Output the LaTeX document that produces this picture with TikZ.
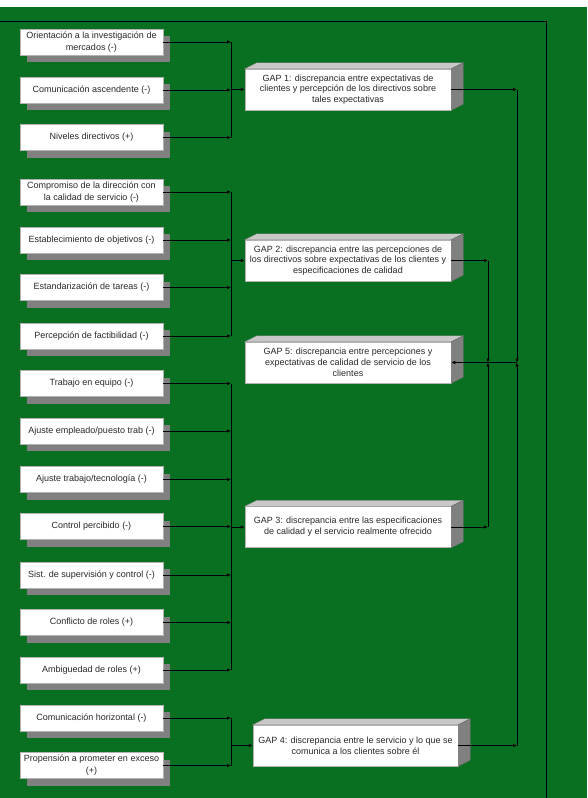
\documentclass[tikz,border=0pt]{standalone}
\usepackage{fontspec}
\setmainfont{Liberation Sans}
\usetikzlibrary{arrows.meta,shadows}
\definecolor{bggreen}{RGB}{8,112,32}
\definecolor{shadowgray}{RGB}{128,128,128}
\definecolor{topgray}{RGB}{200,200,200}
\definecolor{sidegray}{RGB}{128,128,128}
\definecolor{txt}{RGB}{40,40,40}
\tikzset{
  factor/.style={draw=gray!60, line width=0.5pt, fill=white, minimum width=143pt, minimum height=26pt,
    inner sep=1pt, align=center, text=txt, font=\fontsize{9}{11.8}\selectfont,
    general shadow={fill=shadowgray, shadow xshift=7pt, shadow yshift=-7pt}},
  gapbox/.style={draw=gray!60, line width=0.5pt, fill=white, minimum width=206pt, minimum height=41pt,
    inner sep=1pt, align=center, text=txt, font=\fontsize{9}{10.8}\selectfont},
  conn/.style={black, line width=0.7pt},
  arr/.style={conn, -{Latex[length=4pt,width=3.4pt]}},
}
\newcommand{\gapfaces}[1]{%
  \fill[topgray, draw=gray] (#1.north west) -- ++(12pt,6pt) -- ([shift={(12pt,6pt)}]#1.north east) -- (#1.north east) -- cycle;
  \fill[sidegray, draw=gray!80!black] (#1.north east) -- ++(12pt,6pt) -- ([shift={(12pt,6pt)}]#1.south east) -- (#1.south east) -- cycle;
}
\begin{document}
\begin{tikzpicture}[x=1pt,y=-1pt]
\useasboundingbox (0,0) rectangle (587,798);
\fill[bggreen] (0,0) rectangle (587,798);
\fill[white] (0,0) rectangle (587,7);
\draw[black, line width=0.6pt] (0,21) -- (546,21) -- (546,798);

% left factors
\node[factor] (f1) at (91.5,42) {Orientación a la investigación de\\mercados (-)};
\node[factor] (f2) at (91.5,90) {Comunicación ascendente (-)};
\node[factor] (f3) at (91.5,137.5) {Niveles directivos (+)};
\node[factor] (f4) at (91.5,192) {Compromiso de la dirección con\\la calidad de servicio (-)};
\node[factor] (f5) at (91.5,240) {Establecimiento de objetivos (-)};
\node[factor] (f6) at (91.5,287.5) {Estandarización de tareas (-)};
\node[factor] (f7) at (91.5,336) {Percepción de factibilidad (-)};
\node[factor] (f8) at (91.5,383.5) {Trabajo en equipo (-)};
\node[factor] (f9) at (91.5,431) {Ajuste empleado/puesto trab (-)};
\node[factor] (f10) at (91.5,479.5) {Ajuste trabajo/tecnología (-)};
\node[factor] (f11) at (91.5,526.5) {Control percibido (-)};
\node[factor] (f12) at (91.5,575) {Sist. de supervisión y control (-)};
\node[factor] (f13) at (91.5,622.5) {Conflicto de roles (+)};
\node[factor] (f14) at (91.5,670) {Ambiguedad de roles (+)};
\node[factor] (f15) at (91.5,718) {Comunicación horizontal (-)};
\node[factor] (f16) at (91.5,765.5) {Propensión a prometer en exceso\\(+)};

% gap boxes
\node[gapbox] (g1) at (348,89.5) {GAP 1: discrepancia entre expectativas de\\clientes y percepción de los directivos sobre\\tales expectativas};
\node[gapbox] (g2) at (348,260.5) {GAP 2: discrepancia entre las percepciones de\\los directivos sobre expectativas de los clientes y\\especificaciones de calidad};
\node[gapbox] (g5) at (348,362.5) {GAP 5: discrepancia entre percepciones y\\expectativas de calidad de servicio de los\\clientes};
\node[gapbox] (g3) at (348,527) {GAP 3: discrepancia entre las especificaciones\\de calidad y el servicio realmente ofrecido};
\node[gapbox, minimum width=205pt] (g4) at (355.5,745.5) {GAP 4: discrepancia entre le servicio y lo que se\\comunica a los clientes sobre él};
\gapfaces{g1}\gapfaces{g2}\gapfaces{g5}\gapfaces{g3}\gapfaces{g4}

% bus coordinates
\coordinate (busA) at (231,0);
\coordinate (r1) at (517,89.5);
\coordinate (r4) at (517,745.5);
\coordinate (r2) at (488,260.5);
\coordinate (r3) at (488,527);
\coordinate (j1) at (517,362.5);
\coordinate (j2) at (488,362.5);

% group 1
\foreach \f in {f1,f2,f3} \draw[arr] (\f.east) -- (\f.east -| busA);
\draw[conn] (f1.east -| busA) -- (f3.east -| busA);
\draw[arr] (g1.west -| busA) -- (g1.west);
% group 2
\foreach \f in {f4,f5,f6,f7} \draw[arr] (\f.east) -- (\f.east -| busA);
\draw[conn] (f4.east -| busA) -- (f7.east -| busA);
\draw[arr] (g2.west -| busA) -- (g2.west);
% group 3
\foreach \f in {f8,f9,f10,f11,f12,f13,f14} \draw[arr] (\f.east) -- (\f.east -| busA);
\draw[conn] (f8.east -| busA) -- (f14.east -| busA);
\draw[arr] (g3.west -| busA) -- (g3.west);
% group 4
\foreach \f in {f15,f16} \draw[arr] (\f.east) -- (\f.east -| busA);
\draw[conn] (f15.east -| busA) -- (f16.east -| busA);
\draw[arr] (g4.west -| busA) -- (g4.west);

% right side
\draw[arr] (g1.east) -- (r1);
\draw[arr] (g4.east) -- (r4);
\draw[arr] (g2.east) -- (r2);
\draw[arr] (g3.east) -- (r3);
\draw[arr] (r1) -- (j1);
\draw[arr] (r4) -- (j1);
\draw[arr] (r2) -- (j2);
\draw[arr] (r3) -- (j2);
\draw[arr] (j1) -- (g5.east);
\end{tikzpicture}
\end{document}
